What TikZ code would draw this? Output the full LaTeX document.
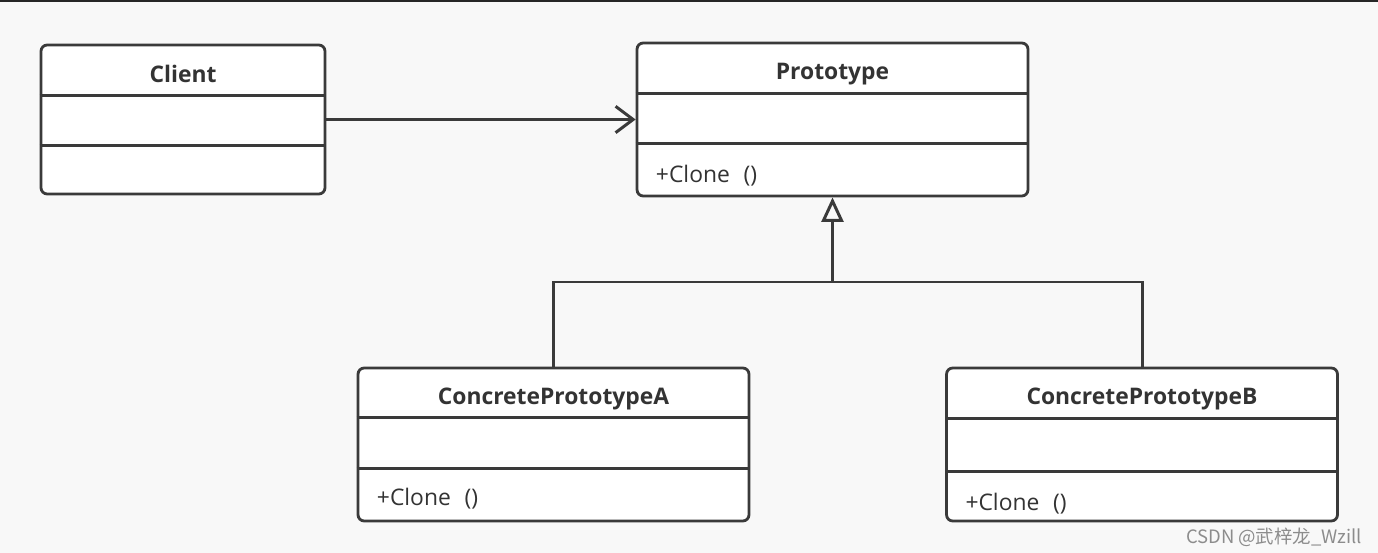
\documentclass[tikz,border=0pt]{standalone}
\usepackage{fontspec}
\setmainfont{Open Sans}
\newfontfamily\cjk{Noto Sans CJK SC}
\usetikzlibrary{arrows.meta,positioning,calc}
\definecolor{umlline}{HTML}{3A3A3A}
\definecolor{umltext}{HTML}{333333}
\definecolor{umlbg}{HTML}{F8F8F8}
\tikzset{
  classbox/.style={draw=umlline, line width=1.6pt, rounded corners=3.5pt, fill=white, minimum width=7.82cm, minimum height=3.06cm, inner sep=0pt},
  classname/.style={font=\fontsize{13}{15}\selectfont\bfseries, text=umltext, inner sep=0pt},
  methodtext/.style={font=\fontsize{13}{15}\selectfont, text=umltext, inner sep=0pt, anchor=west},
  sepline/.style={draw=umlline, line width=1.5pt},
  link/.style={draw=umlline, line width=1.7pt},
  assoc/.style={link, -{Straight Barb[length=10pt, width=15pt]}},
  inherit/.style={link, -{Triangle[length=14pt, width=12.5pt, fill=umlbg]}}
}

\begin{document}
\begin{tikzpicture}[x=0.02cm, y=-0.02cm]
  \fill[umlbg] (0,0) rectangle (1378,553);
  \useasboundingbox (0,0) rectangle (1378,553);
  \draw[line width=1.2pt, draw=black!85] (0,1) -- (1378,1);

  % classes
  \node[classbox, minimum width=5.68cm, minimum height=2.98cm] (client) at (183,119.5) {};
  \node[classbox] (proto) at (832.5,119.5) {};
  \node[classbox] (cpa) at (553.5,444.5) {};
  \node[classbox] (cpb) at (1142,444.5) {};

  % compartments
  \foreach \c/\a/\b in {client/52/102, proto/52/102, cpa/51/102, cpb/52/105} {
    \draw[sepline] ($(\c.north west)+(0,\a)$) -- ($(\c.north east)+(0,\a)$);
    \draw[sepline] ($(\c.north west)+(0,\b)$) -- ($(\c.north east)+(0,\b)$);
  }

  % names
  \node[classname] (clientT) at ($(client.north)+(0,30)$) {Client};
  \node[classname] (protoT) at ($(proto.north)+(0,32)$) {Prototype};
  \node[classname] (cpaT) at ($(cpa.north)+(0,32)$) {ConcretePrototypeA};
  \node[classname] (cpbT) at ($(cpb.north)+(0,32)$) {ConcretePrototypeB};

  % operations
  \node[methodtext] (protoM) at ($(proto.north west)+(20,134)$) {+Clone\hspace{0.6em}()};
  \node[methodtext] (cpaM) at ($(cpa.north west)+(20,132)$) {+Clone\hspace{0.6em}()};
  \node[methodtext] (cpbM) at ($(cpb.north west)+(20,137)$) {+Clone\hspace{0.6em}()};

  % relations
  \draw[assoc] (client) -- (proto);
  \coordinate (join) at (832.5,282);
  \draw[link] (cpa.north) |- (join) -| (cpb.north);
  \draw[inherit] (join) -- (proto.south);

  \node[font=\cjk\fontsize{10.5}{12}\selectfont, text=black!45, inner sep=0pt] (mark) at (1274,537) {CSDN @武梓龙\_Wzill};
\end{tikzpicture}
\end{document}
